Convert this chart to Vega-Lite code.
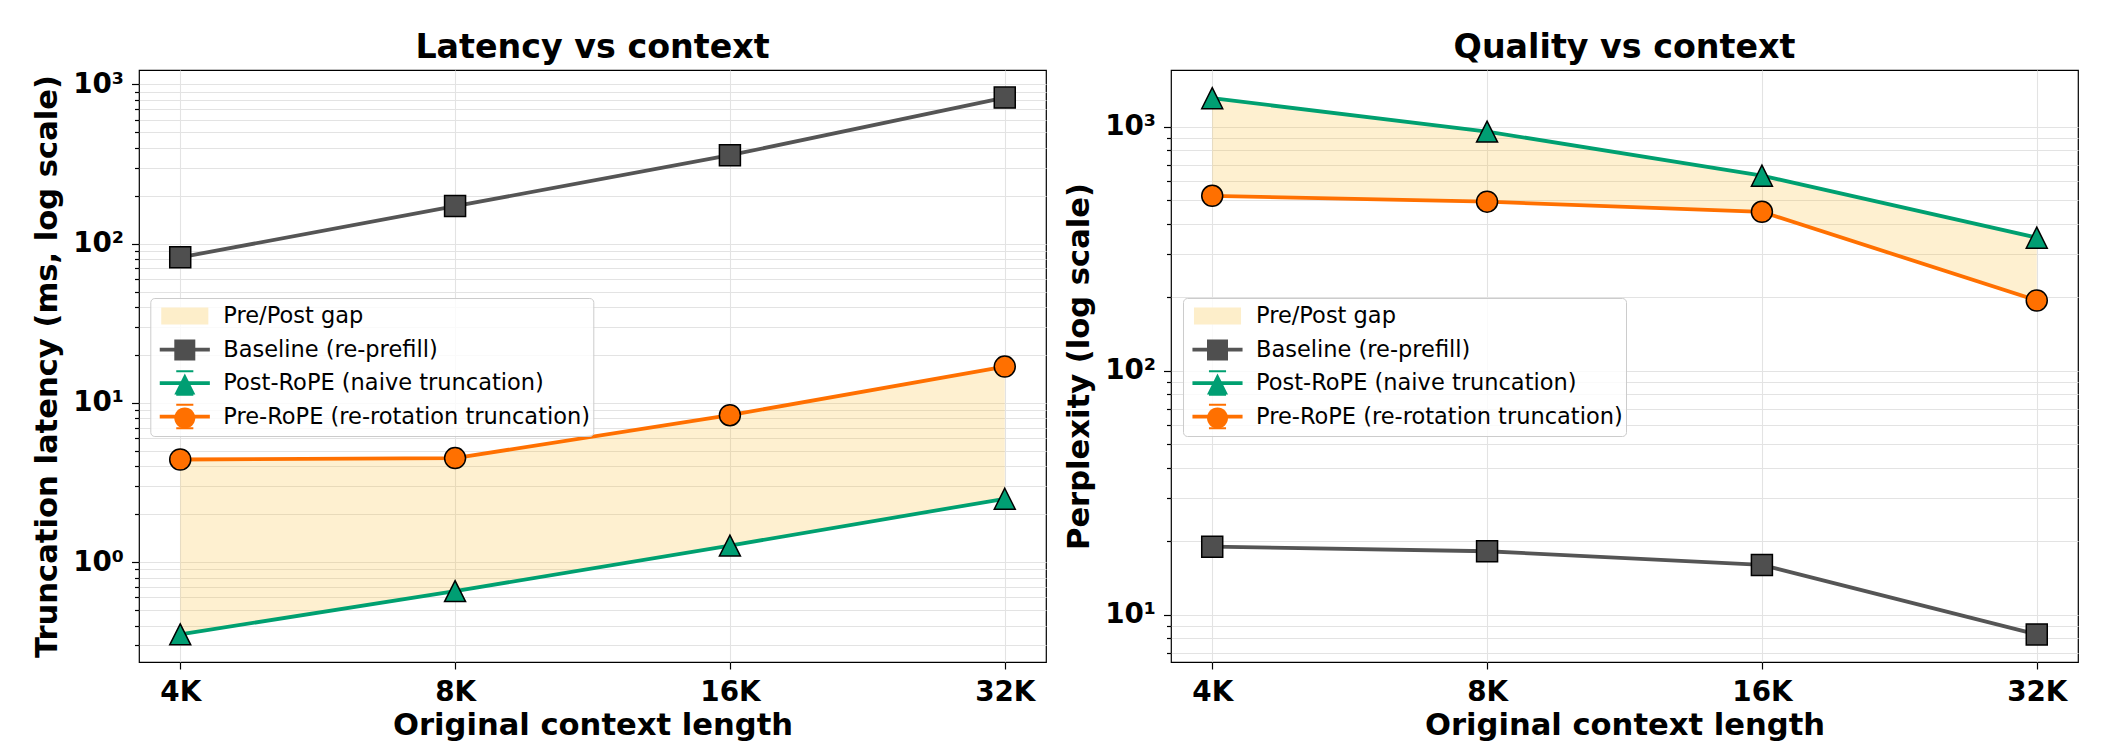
{
  "$schema": "https://vega.github.io/schema/vega-lite/v6.json",
  "background": "white",
  "padding": {"left": 32, "top": 30, "right": 5, "bottom": 5},
  "datasets": {
    "lat": [
      {"ctx": 4096, "series": "Baseline (re-prefill)", "value": 82},
      {"ctx": 8192, "series": "Baseline (re-prefill)", "value": 172},
      {"ctx": 16384, "series": "Baseline (re-prefill)", "value": 359},
      {"ctx": 32768, "series": "Baseline (re-prefill)", "value": 826},
      {"ctx": 4096, "series": "Post-RoPE (naive truncation)", "value": 0.352},
      {"ctx": 8192, "series": "Post-RoPE (naive truncation)", "value": 0.658},
      {"ctx": 16384, "series": "Post-RoPE (naive truncation)", "value": 1.27},
      {"ctx": 32768, "series": "Post-RoPE (naive truncation)", "value": 2.5},
      {"ctx": 4096, "series": "Pre-RoPE (re-rotation truncation)", "value": 4.41},
      {"ctx": 8192, "series": "Pre-RoPE (re-rotation truncation)", "value": 4.5},
      {"ctx": 16384, "series": "Pre-RoPE (re-rotation truncation)", "value": 8.37},
      {"ctx": 32768, "series": "Pre-RoPE (re-rotation truncation)", "value": 16.9}
    ],
    "ppl": [
      {"ctx": 4096, "series": "Baseline (re-prefill)", "value": 19.0},
      {"ctx": 8192, "series": "Baseline (re-prefill)", "value": 18.2},
      {"ctx": 16384, "series": "Baseline (re-prefill)", "value": 16.0},
      {"ctx": 32768, "series": "Baseline (re-prefill)", "value": 8.3},
      {"ctx": 4096, "series": "Post-RoPE (naive truncation)", "value": 1309},
      {"ctx": 8192, "series": "Post-RoPE (naive truncation)", "value": 955},
      {"ctx": 16384, "series": "Post-RoPE (naive truncation)", "value": 630},
      {"ctx": 32768, "series": "Post-RoPE (naive truncation)", "value": 351},
      {"ctx": 4096, "series": "Pre-RoPE (re-rotation truncation)", "value": 521},
      {"ctx": 8192, "series": "Pre-RoPE (re-rotation truncation)", "value": 493},
      {"ctx": 16384, "series": "Pre-RoPE (re-rotation truncation)", "value": 448},
      {"ctx": 32768, "series": "Pre-RoPE (re-rotation truncation)", "value": 194}
    ]
  },
  "hconcat": [
    {
      "width": 907,
      "height": 592,
      "title": {"text": "Latency vs context"},
      "encoding": {
        "x": {"field": "ctx", "type": "quantitative", "scale": {"type": "log", "base": 2, "domain": [3691.5, 36360], "nice": false},
          "axis": {"title": "Original context length", "values": [4096, 8192, 16384, 32768], "labelExpr": "datum.value / 1024 + 'K'", "tickSize": 7, "labelPadding": 9, "titlePadding": 5, "labelFlush": false}}
      },
      "layer": [
        {
          "data": {"name": "lat"},
          "transform": [{"pivot": "series", "value": "value", "groupby": ["ctx"]}],
          "mark": {"type": "area", "color": "#f9bf3b", "opacity": 0.24},
          "encoding": {
            "y": {"field": "Post-RoPE (naive truncation)", "type": "quantitative", "scale": {"type": "log", "domain": [0.236, 1231], "nice": false},
              "axis": {"title": "Truncation latency (ms, log scale)",
                "values": [0.3, 0.4, 0.5, 0.6, 0.7, 0.8, 0.9, 1, 2, 3, 4, 5, 6, 7, 8, 9, 10, 20, 30, 40, 50, 60, 70, 80, 90, 100, 200, 300, 400, 500, 600, 700, 800, 900, 1000],
                "labelExpr": "datum.value == 1000 ? '10³' : datum.value == 100 ? '10²' : datum.value == 10 ? '10¹' : datum.value == 1 ? '10⁰' : ''",
                "tickSize": {"condition": {"test": "datum.value == 1 || datum.value == 10 || datum.value == 100 || datum.value == 1000", "value": 7.5}, "value": 4.5},
                "labelPadding": 8, "titlePadding": 10}},
            "y2": {"field": "Pre-RoPE (re-rotation truncation)"}
          }
        },
        {
          "data": {"name": "lat"},
          "mark": {"type": "line", "strokeWidth": 3.8},
          "encoding": {
            "y": {"field": "value", "type": "quantitative", "scale": {"type": "log", "domain": [0.236, 1231], "nice": false},
              "axis": {"title": "Truncation latency (ms, log scale)",
                "values": [0.3, 0.4, 0.5, 0.6, 0.7, 0.8, 0.9, 1, 2, 3, 4, 5, 6, 7, 8, 9, 10, 20, 30, 40, 50, 60, 70, 80, 90, 100, 200, 300, 400, 500, 600, 700, 800, 900, 1000],
                "labelExpr": "datum.value == 1000 ? '10³' : datum.value == 100 ? '10²' : datum.value == 10 ? '10¹' : datum.value == 1 ? '10⁰' : ''",
                "tickSize": {"condition": {"test": "datum.value == 1 || datum.value == 10 || datum.value == 100 || datum.value == 1000", "value": 7.5}, "value": 4.5},
                "labelPadding": 8, "titlePadding": 10}},
            "color": {"field": "series", "type": "nominal",
              "scale": {"domain": ["Pre/Post gap", "Baseline (re-prefill)", "Post-RoPE (naive truncation)", "Pre-RoPE (re-rotation truncation)"], "range": ["#fdeeca", "#555555", "#00a070", "#ff7000"]},
              "legend": {"orient": "none", "legendX": 11.3, "legendY": 228, "title": null, "padding": 3, "rowPadding": 1.5, "symbolSize": 900, "symbolStrokeWidth": 0, "symbolOffset": 16.5, "labelOffset": 23.5, "labelFontSize": 22.5, "labelFont": "DejaVu Sans", "labelColor": "black", "labelLimit": 0,
                "fillColor": "rgba(255,255,255,0.8)", "strokeColor": "#cccccc", "cornerRadius": 4,
                "encode": {"symbols": {"update": {
                  "shape": {"signal": "datum.value === 'Pre/Post gap' ? 'M0,-1.05M0,1.05M-1.57,-0.57H1.57V0.57H-1.57Z' : datum.value === 'Baseline (re-prefill)' ? 'M0,-1.05M0,1.05M-1.67,-0.125H1.67V0.125H-1.67Z' : 'M0,-1.05M0,1.05M-1.67,-0.125H1.67V0.125H-1.67ZM-0.57,-0.85H0.57V-0.71H-0.57ZM-0.57,0.71H0.57V0.85H-0.57Z'"},
                  "fill": {"signal": "datum.value === 'Pre/Post gap' ? '#fdeeca' : datum.value === 'Baseline (re-prefill)' ? '#555555' : datum.value === 'Post-RoPE (naive truncation)' ? '#00a070' : '#ff7000'"},
                  "stroke": {"value": "transparent"},
                  "strokeWidth": {"value": 0},
                  "opacity": {"value": 1}
                }}}}}
          }
        },
        {
          "data": {"name": "lat"},
          "mark": {"type": "point", "filled": true, "size": 900, "stroke": "black", "strokeWidth": 1.5, "opacity": 1},
          "encoding": {
            "y": {"field": "value", "type": "quantitative", "scale": {"type": "log", "domain": [0.236, 1231], "nice": false},
              "axis": {"title": "Truncation latency (ms, log scale)",
                "values": [0.3, 0.4, 0.5, 0.6, 0.7, 0.8, 0.9, 1, 2, 3, 4, 5, 6, 7, 8, 9, 10, 20, 30, 40, 50, 60, 70, 80, 90, 100, 200, 300, 400, 500, 600, 700, 800, 900, 1000],
                "labelExpr": "datum.value == 1000 ? '10³' : datum.value == 100 ? '10²' : datum.value == 10 ? '10¹' : datum.value == 1 ? '10⁰' : ''",
                "tickSize": {"condition": {"test": "datum.value == 1 || datum.value == 10 || datum.value == 100 || datum.value == 1000", "value": 7.5}, "value": 4.5},
                "labelPadding": 8, "titlePadding": 10}},
            "fill": {"field": "series", "type": "nominal", "scale": {"range": ["#4f4f4f", "#009e73", "#ff7000"]},
              "legend": {"orient": "none", "legendX": 11.3, "legendY": 261, "title": null, "padding": 3, "rowPadding": -3.5, "symbolSize": 900, "symbolStrokeWidth": 1.5, "symbolStrokeColor": "black", "symbolOffset": 15.5, "labelOffset": 23.5, "labelFontSize": 22.5, "labelExpr": "''", "labelLimit": 0}},
            "shape": {"field": "series", "type": "nominal",
              "scale": {"range": ["M0,-1M0,1M-0.7,-0.7H0.7V0.7H-0.7Z", "M0,-1M0,1M0,-0.7L0.7,0.7H-0.7Z", "M0,-1M0,1M-0.7,0A0.7,0.7,0,1,0,0.7,0A0.7,0.7,0,1,0,-0.7,0Z"]},
              "legend": {"orient": "none", "legendX": 11.3, "legendY": 261, "title": null, "padding": 3, "rowPadding": -3.5, "symbolSize": 900, "symbolStrokeWidth": 1.5, "symbolStrokeColor": "black", "symbolOffset": 15.5, "labelOffset": 23.5, "labelFontSize": 22.5, "labelExpr": "''", "labelLimit": 0}}
          }
        }
      ]
    },
    {
      "width": 907,
      "height": 592,
      "title": {"text": "Quality vs context"},
      "encoding": {
        "x": {"field": "ctx", "type": "quantitative", "scale": {"type": "log", "base": 2, "domain": [3691.5, 36360], "nice": false},
          "axis": {"title": "Original context length", "values": [4096, 8192, 16384, 32768], "labelExpr": "datum.value / 1024 + 'K'", "tickSize": 7, "labelPadding": 9, "titlePadding": 5, "labelFlush": false}}
      },
      "layer": [
        {
          "data": {"name": "ppl"},
          "transform": [{"pivot": "series", "value": "value", "groupby": ["ctx"]}],
          "mark": {"type": "area", "color": "#f9bf3b", "opacity": 0.24},
          "encoding": {
            "y": {"field": "Pre-RoPE (re-rotation truncation)", "type": "quantitative", "scale": {"type": "log", "domain": [6.4, 1708], "nice": false},
              "axis": {"title": "Perplexity (log scale)",
                "values": [7, 8, 9, 10, 20, 30, 40, 50, 60, 70, 80, 90, 100, 200, 300, 400, 500, 600, 700, 800, 900, 1000],
                "labelExpr": "datum.value == 1000 ? '10³' : datum.value == 100 ? '10²' : datum.value == 10 ? '10¹' : datum.value == 1 ? '10⁰' : ''",
                "tickSize": {"condition": {"test": "datum.value == 1 || datum.value == 10 || datum.value == 100 || datum.value == 1000", "value": 7.5}, "value": 4.5},
                "labelPadding": 8, "titlePadding": 10}},
            "y2": {"field": "Post-RoPE (naive truncation)"}
          }
        },
        {
          "data": {"name": "ppl"},
          "mark": {"type": "line", "strokeWidth": 3.8},
          "encoding": {
            "y": {"field": "value", "type": "quantitative", "scale": {"type": "log", "domain": [6.4, 1708], "nice": false},
              "axis": {"title": "Perplexity (log scale)",
                "values": [7, 8, 9, 10, 20, 30, 40, 50, 60, 70, 80, 90, 100, 200, 300, 400, 500, 600, 700, 800, 900, 1000],
                "labelExpr": "datum.value == 1000 ? '10³' : datum.value == 100 ? '10²' : datum.value == 10 ? '10¹' : datum.value == 1 ? '10⁰' : ''",
                "tickSize": {"condition": {"test": "datum.value == 1 || datum.value == 10 || datum.value == 100 || datum.value == 1000", "value": 7.5}, "value": 4.5},
                "labelPadding": 8, "titlePadding": 10}},
            "color": {"field": "series", "type": "nominal",
              "scale": {"domain": ["Pre/Post gap", "Baseline (re-prefill)", "Post-RoPE (naive truncation)", "Pre-RoPE (re-rotation truncation)"], "range": ["#fdeeca", "#555555", "#00a070", "#ff7000"]},
              "legend": {"orient": "none", "legendX": 12, "legendY": 228, "title": null, "padding": 3, "rowPadding": 1.5, "symbolSize": 900, "symbolStrokeWidth": 0, "symbolOffset": 16.5, "labelOffset": 23.5, "labelFontSize": 22.5, "labelFont": "DejaVu Sans", "labelColor": "black", "labelLimit": 0,
                "fillColor": "rgba(255,255,255,0.8)", "strokeColor": "#cccccc", "cornerRadius": 4,
                "encode": {"symbols": {"update": {
                  "shape": {"signal": "datum.value === 'Pre/Post gap' ? 'M0,-1.05M0,1.05M-1.57,-0.57H1.57V0.57H-1.57Z' : datum.value === 'Baseline (re-prefill)' ? 'M0,-1.05M0,1.05M-1.67,-0.125H1.67V0.125H-1.67Z' : 'M0,-1.05M0,1.05M-1.67,-0.125H1.67V0.125H-1.67ZM-0.57,-0.85H0.57V-0.71H-0.57ZM-0.57,0.71H0.57V0.85H-0.57Z'"},
                  "fill": {"signal": "datum.value === 'Pre/Post gap' ? '#fdeeca' : datum.value === 'Baseline (re-prefill)' ? '#555555' : datum.value === 'Post-RoPE (naive truncation)' ? '#00a070' : '#ff7000'"},
                  "stroke": {"value": "transparent"},
                  "strokeWidth": {"value": 0},
                  "opacity": {"value": 1}
                }}}}}
          }
        },
        {
          "data": {"name": "ppl"},
          "mark": {"type": "point", "filled": true, "size": 900, "stroke": "black", "strokeWidth": 1.5, "opacity": 1},
          "encoding": {
            "y": {"field": "value", "type": "quantitative", "scale": {"type": "log", "domain": [6.4, 1708], "nice": false},
              "axis": {"title": "Perplexity (log scale)",
                "values": [7, 8, 9, 10, 20, 30, 40, 50, 60, 70, 80, 90, 100, 200, 300, 400, 500, 600, 700, 800, 900, 1000],
                "labelExpr": "datum.value == 1000 ? '10³' : datum.value == 100 ? '10²' : datum.value == 10 ? '10¹' : datum.value == 1 ? '10⁰' : ''",
                "tickSize": {"condition": {"test": "datum.value == 1 || datum.value == 10 || datum.value == 100 || datum.value == 1000", "value": 7.5}, "value": 4.5},
                "labelPadding": 8, "titlePadding": 10}},
            "fill": {"field": "series", "type": "nominal", "scale": {"range": ["#4f4f4f", "#009e73", "#ff7000"]},
              "legend": {"orient": "none", "legendX": 12, "legendY": 261, "title": null, "padding": 3, "rowPadding": -3.5, "symbolSize": 900, "symbolStrokeWidth": 1.5, "symbolStrokeColor": "black", "symbolOffset": 15.5, "labelOffset": 23.5, "labelFontSize": 22.5, "labelExpr": "''", "labelLimit": 0}},
            "shape": {"field": "series", "type": "nominal",
              "scale": {"range": ["M0,-1M0,1M-0.7,-0.7H0.7V0.7H-0.7Z", "M0,-1M0,1M0,-0.7L0.7,0.7H-0.7Z", "M0,-1M0,1M-0.7,0A0.7,0.7,0,1,0,0.7,0A0.7,0.7,0,1,0,-0.7,0Z"]},
              "legend": {"orient": "none", "legendX": 12, "legendY": 261, "title": null, "padding": 3, "rowPadding": -3.5, "symbolSize": 900, "symbolStrokeWidth": 1.5, "symbolStrokeColor": "black", "symbolOffset": 15.5, "labelOffset": 23.5, "labelFontSize": 22.5, "labelExpr": "''", "labelLimit": 0}}
          }
        }
      ]
    }
  ],
  "spacing": 125,
  "bounds": "flush",
  "resolve": {
    "scale": {"x": "independent", "y": "independent", "color": "independent", "fill": "independent", "shape": "independent"},
    "legend": {"color": "independent", "fill": "independent", "shape": "independent"}
  },
  "config": {
    "font": "DejaVu Sans",
    "view": {"stroke": "black", "strokeWidth": 1.2},
    "title": {"fontSize": 33.3, "fontWeight": "bold", "color": "black", "font": "DejaVu Sans", "anchor": "middle", "frame": "group", "baseline": "alphabetic", "offset": 5},
    "axis": {
      "labelFont": "DejaVu Sans", "labelFontSize": 27.8, "labelFontWeight": "bold", "labelColor": "black",
      "titleFont": "DejaVu Sans", "titleFontSize": 30.6, "titleFontWeight": "bold", "titleColor": "black",
      "domain": false, "tickColor": "black", "tickWidth": 1.2,
      "grid": true, "gridColor": "#e3e3e3", "gridWidth": 1.1,
      "labelOverlap": false, "labelBound": false
    }
  }
}
